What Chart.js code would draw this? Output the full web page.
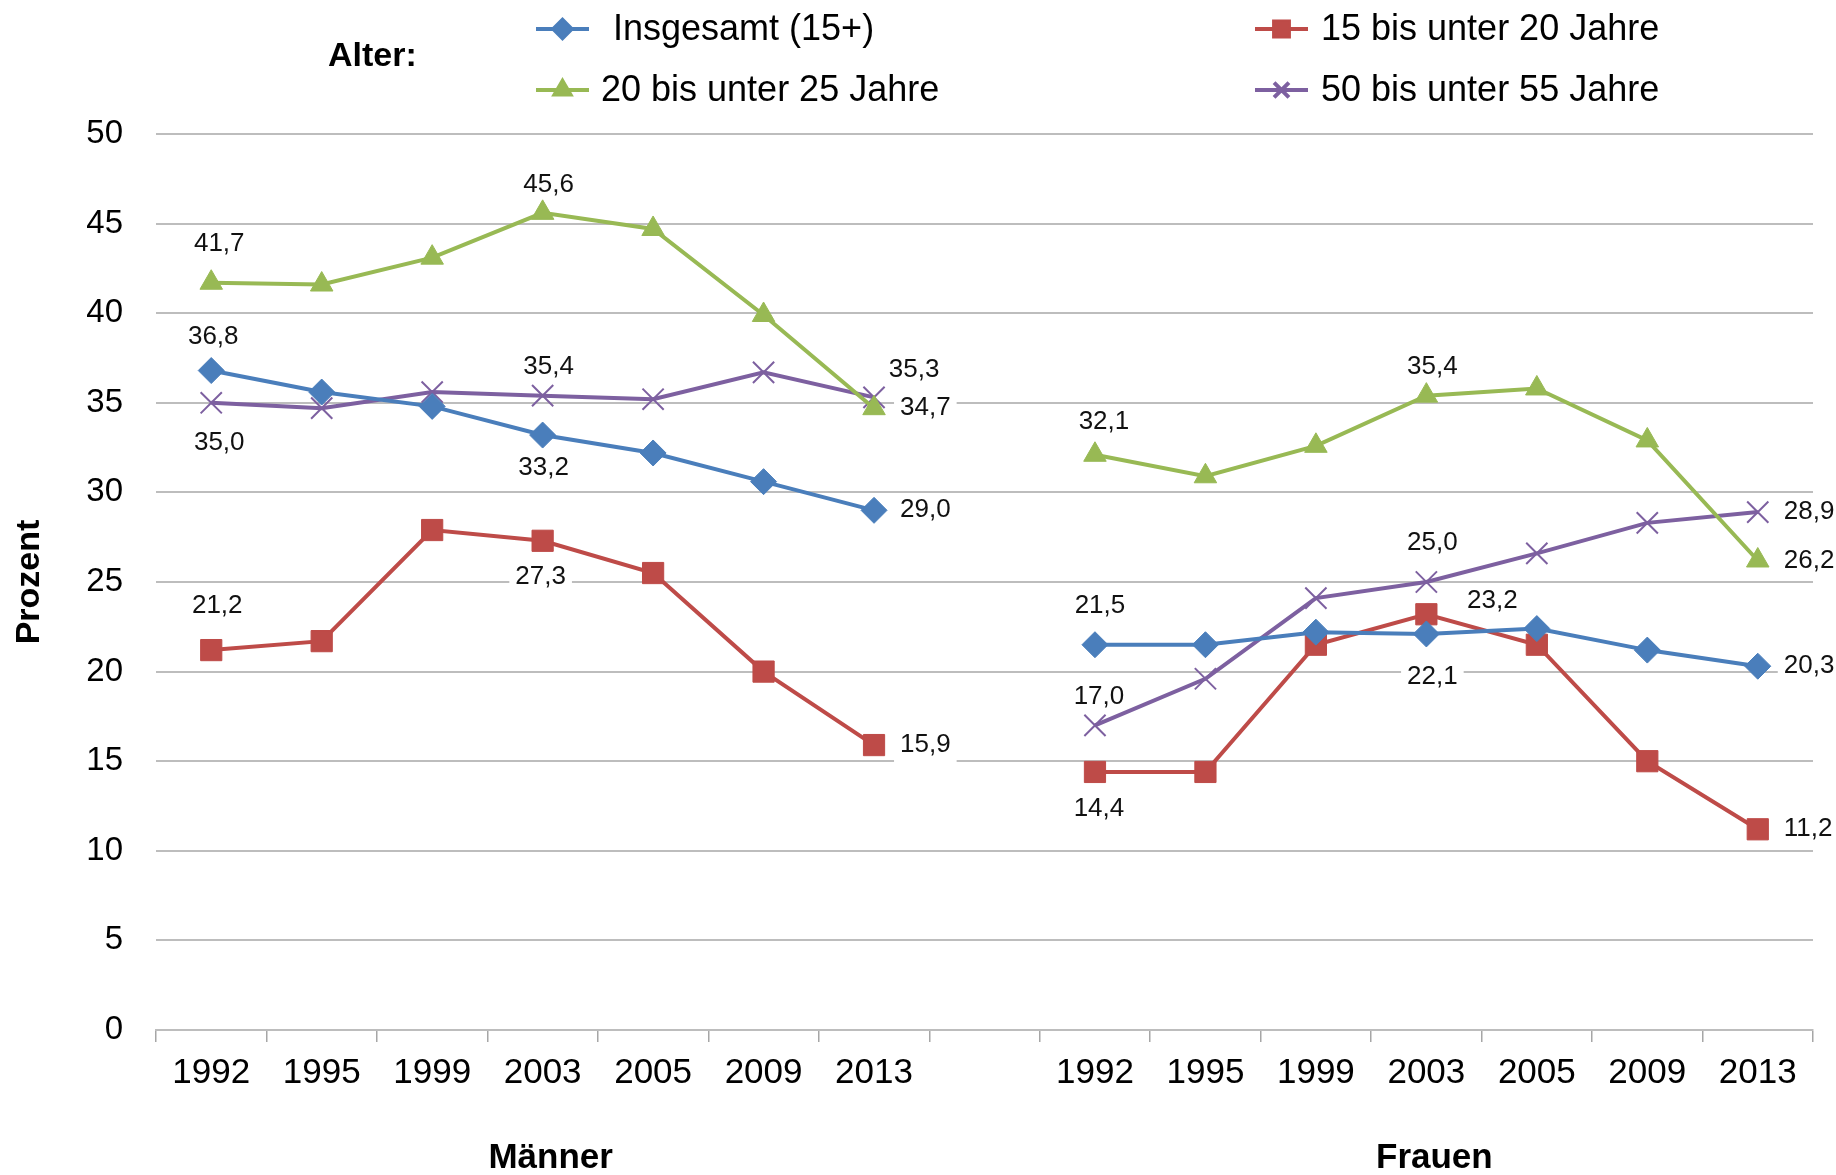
<!DOCTYPE html>
<html>
<head>
<meta charset="utf-8">
<script src="https://cdn.jsdelivr.net/npm/chart.js@4/dist/chart.umd.min.js"></script>
<style>
    html, body { margin: 0; padding: 0; background: #fff; }
</style>
</head>
<body>
<canvas id="chart" width="1836" height="1175"></canvas>
<script>
// Kategorien: Männer, eine leere Lücke, Frauen
const years = ['1992', '1995', '1999', '2003', '2005', '2009', '2013'];
const categories = [...years, '', ...years];
const groupNames = ['Männer', 'Frauen'];
const groupCenterIndex = [3, 11];

const yMin = 0;
const yMax = 50;
const yStep = 5;

// Werte in Prozent (null = Lücke zwischen Männern und Frauen)
const insgesamt = [36.8, 35.6, 34.8, 33.2, 32.2, 30.6, 29.0, null, 21.5, 21.5, 22.2, 22.1, 22.4, 21.2, 20.3];
const alter15bis20 = [21.2, 21.7, 27.9, 27.3, 25.5, 20.0, 15.9, null, 14.4, 14.4, 21.5, 23.2, 21.5, 15.0, 11.2];
const alter20bis25 = [41.7, 41.6, 43.1, 45.6, 44.7, 39.9, 34.7, null, 32.1, 30.9, 32.6, 35.4, 35.8, 32.9, 26.2];
const alter50bis55 = [35.0, 34.7, 35.6, 35.4, 35.2, 36.7, 35.3, null, 17.0, 19.6, 24.1, 25.0, 26.6, 28.3, 28.9];

const seriesNames = ['Insgesamt (15+)', '15 bis unter 20 Jahre', '20 bis unter 25 Jahre', '50 bis unter 55 Jahre'];

// nur diese Punkte haben eine Beschriftung
const labelledIndices = [0, 3, 6, 8, 11, 14];

const FONT = "'Liberation Sans', Arial, sans-serif";

// Lage der Beschriftung relativ zum Punkt: [dx, dy, align]
const labelPlacement = [
    { 0: [2, -34, 'center'], 3: [1, 33, 'center'], 6: [26, 0, 'left'], 8: [5, -39, 'center'], 11: [6, 43, 'center'], 14: [26, 0, 'left'] },
    { 0: [6, -44, 'center'], 3: [-2, 36, 'center'], 6: [26, 0, 'left'], 8: [4, 37, 'center'], 11: [66, -13, 'center'], 14: [26, 0, 'left'] },
    { 0: [8, -39, 'center'], 3: [6, -28, 'center'], 6: [26, 0, 'left'], 8: [9, -33, 'center'], 11: [6, -29, 'center'], 14: [26, 0, 'left'] },
    { 0: [8, 40, 'center'], 3: [6, -29, 'center'], 6: [40, -28, 'center'], 8: [4, -29, 'center'], 11: [6, -39, 'center'], 14: [26, 0, 'left'] }
];

function fmt(v) {
    return v.toFixed(1).replace('.', ',');
}

const dataLabels = {
    id: 'dataLabels',
    beforeDatasetsDraw(chart) {
        const ctx = chart.ctx;
        ctx.save();
        ctx.font = `26px ${FONT}`;
        ctx.textBaseline = 'middle';
        chart.data.datasets.forEach((ds, d) => {
            const meta = chart.getDatasetMeta(d);
            labelledIndices.forEach(i => {
                const v = ds.data[i];
                if (v == null) return;
                const pt = meta.data[i];
                const [dx, dy, align] = labelPlacement[d][i];
                const text = fmt(v);
                const w = ctx.measureText(text).width;
                const x = pt.x + dx;
                const y = pt.y + dy;
                const left = align === 'left' ? x : x - w / 2;
                ctx.fillStyle = '#fff';
                ctx.fillRect(left - 6, y - 17, w + 12, 34);
                ctx.fillStyle = '#111';
                ctx.textAlign = align;
                ctx.fillText(text, x, y);
            });
        });
        ctx.restore();
    }
};

const extraText = {
    id: 'extraText',
    afterDraw(chart) {
        const ctx = chart.ctx;
        const xs = chart.scales.x;
        ctx.save();
        ctx.fillStyle = '#000';
        ctx.textBaseline = 'middle';

        // Gruppen unter der Achse
        ctx.font = `bold 35px ${FONT}`;
        ctx.textAlign = 'center';
        groupNames.forEach((name, g) => {
            ctx.fillText(name, xs.getPixelForValue(groupCenterIndex[g]) + 8, 1158);
        });

        // Legende
        ctx.font = `bold 34px ${FONT}`;
        ctx.textAlign = 'left';
        ctx.fillText('Alter:', 328, 57);
        ctx.font = `36px ${FONT}`;
        const spots = [
            { x: 536, y: 29, tx: 613 },
            { x: 1255, y: 29, tx: 1321 },
            { x: 536, y: 90, tx: 601 },
            { x: 1255, y: 90, tx: 1321 }
        ];
        chart.data.datasets.forEach((ds, d) => {
            const s = spots[d];
            ctx.strokeStyle = ds.borderColor;
            ctx.lineWidth = 4;
            ctx.beginPath();
            ctx.moveTo(s.x, s.y);
            ctx.lineTo(s.x + 53, s.y);
            ctx.stroke();
            ctx.fillStyle = ds.borderColor;
            Chart.helpers.drawPoint(ctx, {
                pointStyle: ds.pointStyle,
                radius: ds.pointRadius * 0.7,
                rotation: 0,
                borderWidth: ds.pointBorderWidth
            }, s.x + 26.5, s.y);
            if (ds.pointStyle !== 'crossRot') ctx.fill();
            ctx.fillStyle = '#000';
            ctx.fillText(ds.label, s.tx, s.y + 1);
        });
        ctx.restore();
    }
};

const colors = ['#4a7ebb', '#be4b48', '#98b954', '#7d60a0'];
const pointStyles = ['rectRot', 'rect', 'triangle', 'crossRot'];
const pointSizes = [13, 15, 13, 15];
const seriesData = [insgesamt, alter15bis20, alter20bis25, alter50bis55];

const datasets = seriesData.map((values, k) => ({
    label: seriesNames[k],
    data: values,
    borderColor: colors[k],
    backgroundColor: colors[k],
    pointBackgroundColor: colors[k],
    pointBorderColor: colors[k],
    borderWidth: 4,
    pointStyle: pointStyles[k],
    pointRadius: pointSizes[k],
    pointBorderWidth: k === 3 ? 2 : 1,
    tension: 0,
    spanGaps: false
}));

new Chart(document.getElementById('chart'), {
    type: 'line',
    data: {
        labels: categories,
        datasets: datasets
    },
    options: {
        responsive: false,
        animation: false,
        devicePixelRatio: 1,
        layout: {
            padding: { top: 134, right: 23, left: 0, bottom: 0 }
        },
        plugins: {
            legend: { display: false },
            tooltip: { enabled: false }
        },
        scales: {
            x: {
                type: 'category',
                offset: true,
                grid: {
                    offset: true,
                    drawOnChartArea: false,
                    drawTicks: true,
                    tickLength: 12,
                    color: '#a6a6a6',
                    lineWidth: 1.5
                },
                border: { display: true, color: '#bdbdbd', width: 2 },
                ticks: {
                    font: { size: 35, family: FONT },
                    color: '#000',
                    padding: 10,
                    maxRotation: 0,
                    autoSkip: false
                },
                afterFit(scale) { scale.height = 145; }
            },
            y: {
                min: yMin,
                max: yMax,
                ticks: {
                    stepSize: yStep,
                    font: { size: 33, family: FONT },
                    color: '#000',
                    padding: 33
                },
                grid: { color: '#bdbdbd', lineWidth: 2, drawTicks: false },
                border: { display: false },
                title: {
                    display: true,
                    text: 'Prozent',
                    color: '#000',
                    font: { size: 34, weight: 'bold', family: FONT },
                    padding: { top: 9, bottom: 0 }
                },
                afterFit(scale) { scale.width = 156; }
            }
        }
    },
    plugins: [dataLabels, extraText]
});
</script>
</body>
</html>
